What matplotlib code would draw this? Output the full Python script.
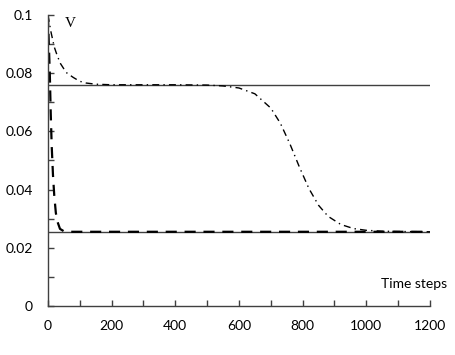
import matplotlib
matplotlib.use("Agg")
import matplotlib.pyplot as plt
from matplotlib.ticker import MultipleLocator, FixedLocator

# Data
upper_level = 0.076
lower_level = 0.0255
ref_x = [0, 1200]

dashdot_x = [0, 10, 20, 30, 40, 50, 60, 80, 100, 120, 150, 200, 300, 400, 500,
             550, 600, 650, 700, 730, 760, 790, 820, 850, 880, 920, 960, 1000,
             1050, 1100, 1200]
dashdot_y = [0.1, 0.094, 0.089, 0.0858, 0.0832, 0.0815, 0.0800, 0.0785, 0.0772,
             0.0766, 0.0762, 0.0760, 0.0760, 0.0760, 0.0759,
             0.0756, 0.0749, 0.0729, 0.0680, 0.0628, 0.0557, 0.0477, 0.0403,
             0.0346, 0.0308, 0.0280, 0.0266, 0.0260, 0.0257, 0.0256, 0.0255]

dashed_x = [0, 3, 6, 9, 12, 16, 20, 25, 30, 38, 50, 70, 200, 600, 1000, 1200]
dashed_y = [0.1, 0.09, 0.08, 0.066, 0.055, 0.045, 0.038, 0.032, 0.029, 0.0265,
            0.0257, 0.0255, 0.0255, 0.0255, 0.0255, 0.0255]

x_ticks = [0, 200, 400, 600, 800, 1000, 1200]
x_tick_labels = ["0", "200", "400", "600", "800", "1000", "1200"]
y_ticks = [0, 0.02, 0.04, 0.06, 0.08, 0.1]
y_tick_labels = ["0", "0.02", "0.04", "0.06", "0.08", "0.1"]

fig = plt.figure(figsize=(4.56, 3.55), dpi=100)
ax = fig.add_axes([0.105, 0.138, 0.838, 0.82])

ax.plot(ref_x, [upper_level, upper_level], color="#404040", lw=1.0)
ax.plot(ref_x, [lower_level, lower_level], color="#404040", lw=1.0)
ax.plot(dashdot_x, dashdot_y, color="black", lw=1.0, dashes=(5, 3, 1, 3))
ax.plot(dashed_x, dashed_y, color="black", lw=1.6, dashes=(5, 3.5))

ax.set_xlim(0, 1200)
ax.set_ylim(0, 0.1)
for s in ["top", "right"]:
    ax.spines[s].set_visible(False)
for s in ["left", "bottom"]:
    ax.spines[s].set_color("#404040")
    ax.spines[s].set_linewidth(1.0)

ax.xaxis.set_major_locator(FixedLocator(x_ticks))
ax.xaxis.set_minor_locator(MultipleLocator(100))
ax.yaxis.set_major_locator(FixedLocator(y_ticks))
ax.yaxis.set_minor_locator(MultipleLocator(0.01))
ax.set_xticklabels(x_tick_labels)
ax.set_yticklabels(y_tick_labels)
ax.tick_params(which="both", direction="in", length=4, width=1.0, color="#404040",
               labelsize=10, labelcolor="black")
ax.tick_params(axis="x", pad=10)
ax.tick_params(axis="y", pad=11)
for lab in ax.get_xticklabels() + ax.get_yticklabels():
    lab.set_family("Lato")

ax.text(70, 0.097, "V", family="Liberation Serif", fontsize=11, ha="center", va="center")
ax.text(1150, 0.0075, "Time steps", family="Lato", fontsize=10, ha="center", va="center",
        clip_on=False)

fig.savefig("out.png", dpi=100)
